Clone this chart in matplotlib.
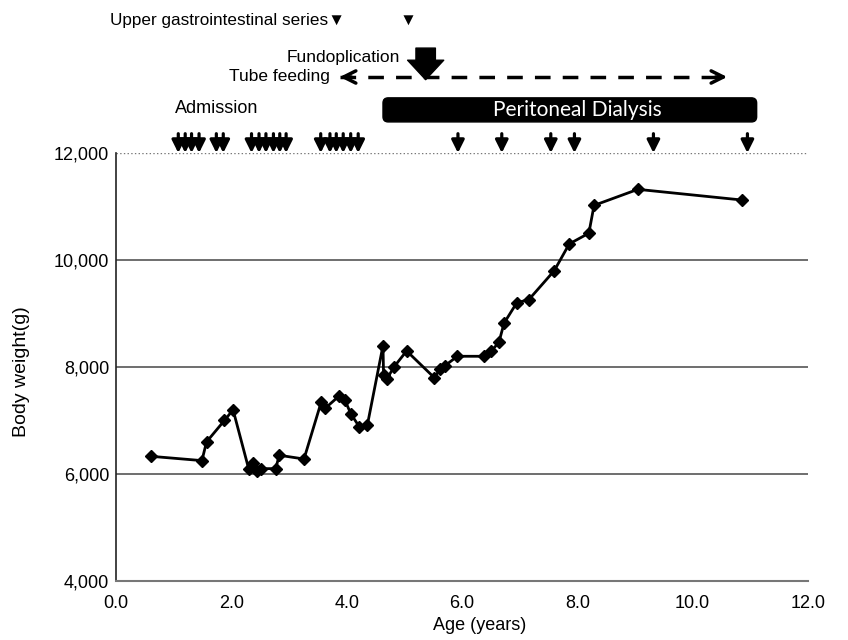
import numpy as np
import matplotlib
matplotlib.use('Agg')
import matplotlib.pyplot as plt
from matplotlib.patches import FancyBboxPatch
from matplotlib.ticker import FuncFormatter

plt.rcParams['font.family'] = ['Liberation Sans', 'DejaVu Sans']

# body weight series
age = [0.61, 1.49, 1.57, 1.88, 2.03, 2.30, 2.37, 2.44, 2.51, 2.77, 2.83, 3.26,
       3.56, 3.63, 3.86, 3.97, 4.07, 4.22, 4.36, 4.63, 4.64, 4.70, 4.82, 5.04,
       5.52, 5.62, 5.70, 5.92, 6.38, 6.51, 6.64, 6.73, 6.95, 7.16, 7.60, 7.86,
       8.20, 8.29, 9.05, 10.86]
weight = [6330, 6250, 6600, 7000, 7200, 6100, 6200, 6050, 6100, 6100, 6350, 6280,
          7350, 7230, 7450, 7380, 7130, 6880, 6920, 8400, 7850, 7780, 8000, 8300,
          7800, 7960, 8020, 8200, 8200, 8300, 8460, 8820, 9200, 9260, 9800, 10300,
          10500, 11020, 11320, 11120]

# admission times (arrows on top of plot)
admissions = [1.08, 1.20, 1.31, 1.44, 1.74, 1.86,
              2.35, 2.48, 2.60, 2.73, 2.84, 2.95,
              3.55, 3.71, 3.82, 3.94, 4.07, 4.20,
              5.93, 6.69, 7.54, 7.95, 9.32, 10.95]

ugi_series = [3.88, 5.06]
fundoplication = 5.37
tube_feeding = (3.88, 10.6)
pd_period = (4.63, 11.11)

xticks = [0, 2, 4, 6, 8, 10, 12]
yticks = [4000, 6000, 8000, 10000, 12000]

fig = plt.figure(figsize=(8.48, 6.4), dpi=100)
ax = fig.add_axes([0.1368, 0.0922, 0.816, 0.6688])

for yv in [6000, 8000, 10000]:
    ax.axhline(yv, color='#555555', lw=1.2, zorder=1)
ax.axhline(12000, color='#777777', lw=1.0, ls=':', zorder=1)

ax.plot(age, weight, color='black', lw=2, marker='D', markersize=6, zorder=3)

ax.set_xlim(0, 12)
ax.set_ylim(4000, 12000)
ax.set_xticks(xticks)
ax.set_yticks(yticks)
ax.xaxis.set_major_formatter(FuncFormatter(lambda v, p: '%.1f' % v))
ax.yaxis.set_major_formatter(FuncFormatter(lambda v, p: '{:,.0f}'.format(v)))
ax.tick_params(axis='both', length=0, labelsize=13)
ax.tick_params(axis='x', pad=10)
ax.tick_params(axis='y', pad=5)
ax.spines['top'].set_visible(False)
ax.spines['right'].set_visible(False)
ax.spines['left'].set_color('#222222')
ax.spines['bottom'].set_color('#777777')
ax.spines['left'].set_linewidth(1.2)
ax.spines['bottom'].set_linewidth(1.5)

ax.set_xlabel('Age (years)', fontsize=13)
ax.xaxis.set_label_coords(0.525, -0.085)
ax.set_ylabel('Body weight(g)', fontsize=14)
ax.yaxis.set_label_coords(-0.125, 0.49)

# admission arrows
for a in admissions:
    ax.annotate('', xy=(a, 12000), xytext=(a, 12360),
                arrowprops=dict(arrowstyle='-|>', color='black', lw=2.3,
                                mutation_scale=19, shrinkA=0, shrinkB=0),
                annotation_clip=False)
ax.text(1.02, 12840, 'Admission', fontsize=13, va='center', ha='left')

# peritoneal dialysis bar
aspect = 18.7 / 0.01733
box = FancyBboxPatch((pd_period[0], 12580), pd_period[1] - pd_period[0], 450,
                     boxstyle='round,pad=0,rounding_size=0.09',
                     mutation_aspect=aspect, facecolor='black',
                     edgecolor='black', clip_on=False, zorder=4)
ax.add_patch(box)
ax.text(8.0, 12805, 'Peritoneal Dialysis', color='white', fontsize=15,
        family=['Lato', 'DejaVu Sans'], ha='center', va='center', zorder=5)

# tube feeding dashed double arrow
tf_y = 13420
ax.plot(tube_feeding, [tf_y, tf_y], color='black', lw=2.5,
        ls=(0, (4.5, 3.5)), clip_on=False)
ax.annotate('', xy=(tube_feeding[0], tf_y), xytext=(tube_feeding[0] + 0.2, tf_y),
            arrowprops=dict(arrowstyle='->', color='black', lw=2.5,
                            mutation_scale=22, shrinkA=0, shrinkB=0),
            annotation_clip=False)
ax.annotate('', xy=(tube_feeding[1], tf_y), xytext=(tube_feeding[1] - 0.2, tf_y),
            arrowprops=dict(arrowstyle='->', color='black', lw=2.5,
                            mutation_scale=22, shrinkA=0, shrinkB=0),
            annotation_clip=False)
ax.text(3.71, tf_y, 'Tube feeding', fontsize=12.5, ha='right', va='center')

# fundoplication block arrow
ax.annotate('', xy=(fundoplication, 13370), xytext=(fundoplication, 13960),
            arrowprops=dict(arrowstyle='simple,head_width=1.3,head_length=0.7,tail_width=0.7',
                            color='black', mutation_scale=20, shrinkA=0, shrinkB=0),
            annotation_clip=False)
ax.text(4.92, 13780, 'Fundoplication', fontsize=12.5, ha='right', va='center')

# upper GI series markers
ax.text(ugi_series[0] + 0.1, 14480, 'Upper gastrointestinal series\u25bc', fontsize=12.3,
        ha='right', va='center')
ax.text(ugi_series[1], 14480, '\u25bc', fontsize=12.3, ha='center', va='center')

fig.savefig('out.png', dpi=100)
